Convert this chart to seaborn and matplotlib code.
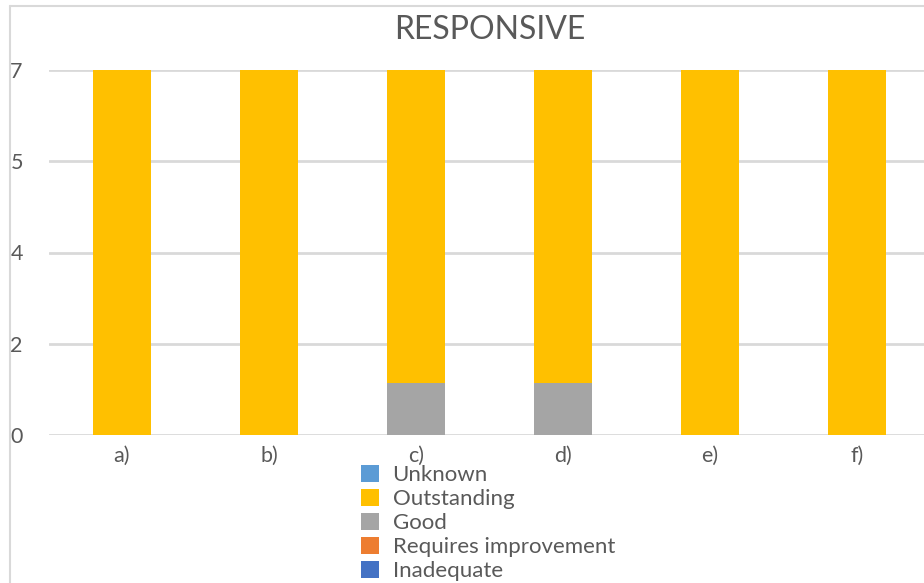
import matplotlib
matplotlib.use("Agg")
import matplotlib.pyplot as plt
from matplotlib.patches import Patch
from matplotlib.lines import Line2D
import seaborn as sns
import pandas as pd
import numpy as np

categories = ["a)", "b)", "c)", "d)", "e)", "f)"]
inadequate = [0, 0, 0, 0, 0, 0]
requires_improvement = [0, 0, 0, 0, 0, 0]
good = [0, 0, 1, 1, 0, 0]
outstanding = [7, 7, 6, 6, 7, 7]
unknown = [0, 0, 0, 0, 0, 0]
ytick_values = [0, 1.75, 3.5, 5.25, 7]
ytick_labels = ["0", "2", "4", "5", "7"]

series = [
    ("Inadequate", inadequate, "#4472C4"),
    ("Requires improvement", requires_improvement, "#ED7D31"),
    ("Good", good, "#A5A5A5"),
    ("Outstanding", outstanding, "#FFC000"),
    ("Unknown", unknown, "#5B9BD5"),
]

sns.set_style("white")
plt.rcParams["font.family"] = ["Lato", "DejaVu Sans"]
text_color = "#595959"
grid_color = "#d9d9d9"

fig = plt.figure(figsize=(9.24, 5.83), dpi=100)
W, H = 924, 583
ax = fig.add_axes([48.5 / W, (H - 435) / H, 882 / W, 365 / H])

# stacked via cumulative overlay (draw tallest first)
cum = np.zeros(len(categories))
cums = []
for name, vals, col in series:
    cum = cum + np.array(vals, dtype=float)
    cums.append((name, cum.copy(), col))
for i, (name, c, col) in enumerate(reversed(cums)):
    df = pd.DataFrame({"cat": categories, "val": c})
    sns.barplot(data=df, x="cat", y="val", color=col, width=0.4, ax=ax,
                saturation=1, zorder=2 + i, edgecolor="none", linewidth=0)

ax.set_ylim(0, 7)
ax.set_xlim(-0.5, len(categories) - 0.5)
ax.set_yticks(ytick_values)
ax.set_yticklabels(ytick_labels)
ax.set_xlabel("")
ax.set_ylabel("")
for y in ytick_values:
    ax.axhline(y, color=grid_color, lw=2, zorder=1)
for s in ax.spines.values():
    s.set_visible(False)
ax.tick_params(axis="both", length=0, colors=text_color, labelsize=15.5)
ax.tick_params(axis="y", pad=27.5)
ax.tick_params(axis="x", pad=8)
for lbl in ax.get_yticklabels():
    lbl.set_horizontalalignment("left")

ax.set_title("RESPONSIVE", fontsize=23, color=text_color, pad=22)

handles = [Patch(facecolor=col, edgecolor="none", label=name)
           for name, vals, col in reversed(series)]
leg = fig.legend(handles=handles, loc="upper left",
                 bbox_to_anchor=(361 / W, 1 - 465 / H),
                 frameon=False, fontsize=16, handlelength=0.82,
                 handleheight=0.82, labelspacing=0.16, handletextpad=0.6,
                 borderpad=0, borderaxespad=0)
for t in leg.get_texts():
    t.set_color(text_color)

# outer chart frame (partially visible)
fig.add_artist(Line2D([10 / W, 10 / W], [0, 1 - 6 / H], color=grid_color, lw=1.5,
                      transform=fig.transFigure))
fig.add_artist(Line2D([10 / W, 1], [1 - 6 / H, 1 - 6 / H], color=grid_color, lw=1.5,
                      transform=fig.transFigure))

fig.savefig("out.png", dpi=100)
